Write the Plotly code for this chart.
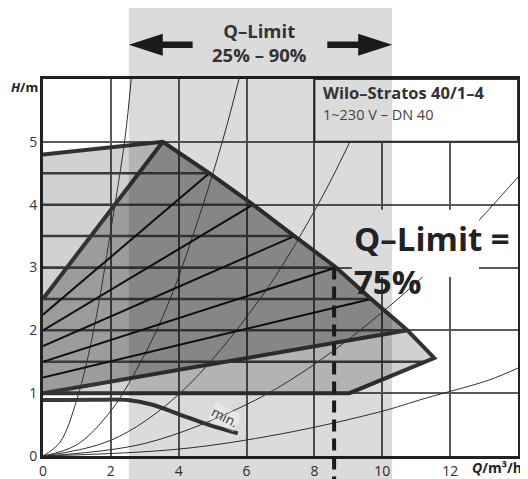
import plotly.graph_objects as go

# --- data --------------------------------------------------------------
# outer envelope (max speed), from y-axis round the right tip back to H=1
env_q = [0, 3.53, 4.9, 6.19, 7.41, 8.64, 9.67, 10.74, 11.53, 9.03, 0]
env_h = [4.8, 5.0, 4.5, 4.0, 3.5, 3.0, 2.5, 2.0, 1.56, 1.0, 1.0]

# dp-v region (darker): y-axis 1.0..2.5, up to the peak, down the max curve
dpv_q = [0, 0, 3.53, 4.9, 6.19, 7.41, 8.64, 9.67, 10.74, 0]
dpv_h = [1.0, 2.5, 5.0, 4.5, 4.0, 3.5, 3.0, 2.5, 2.0, 1.0]

# dp-v set-point lines: start head at Q=0 and end point on the max curve
dpv_start = [2.25, 2.0, 1.75, 1.5, 1.25]
dpv_end_q = [4.9, 6.19, 7.41, 8.64, 9.67]
dpv_end_h = [4.5, 4.0, 3.5, 3.0, 2.5]

# dp-c set-point lines: head and where they meet the envelope
dpc_h = [1.5, 2.0, 2.5, 3.0, 3.5, 4.0, 4.5]
dpc_q = [11.3, 10.74, 9.67, 8.64, 7.41, 6.19, 4.9]

# min. speed curve
min_q = [0, 1.5, 2.5, 3.2, 4.03, 4.91, 5.74]
min_h = [0.89, 0.895, 0.89, 0.82, 0.66, 0.49, 0.36]

# system curves (thin parabolas through the origin)
sys_curves = [
    ([0, 0.5, 1.0, 1.5, 2.0, 2.41, 2.6], [0, 0.22, 0.9, 2.02, 3.6, 5.03, 6.0]),
    ([0, 1, 2, 3, 3.74, 4.5, 5.3, 5.8], [0, 0.18, 0.72, 1.62, 2.49, 3.64, 5.03, 6.05]),
    ([0, 2, 4, 6.38, 8.0, 9.0, 9.8], [0, 0.25, 0.98, 2.49, 3.9, 4.95, 5.9]),
    ([0, 3, 6, 8, 10.2, 12, 14.1], [0, 0.2, 0.82, 1.46, 2.38, 3.27, 4.5]),
    ([0, 4, 7, 9.91, 11.28, 13.15, 14], [0, 0.11, 0.35, 0.70, 0.92, 1.21, 1.40]),
]

q_ticks = [0, 2, 4, 6, 8, 10, 12, 14]
q_labels = ["0", "2", "4", "6", "8", "10", "12", ""]
h_ticks = [0, 1, 2, 3, 4, 5, 6]
h_labels = ["0", "1", "2", "3", "4", "5", ""]

q_band = (2.53, 10.29)      # Q-Limit 25% - 90%
q_limit = 8.58              # Q-Limit = 75%
q_limit_h = 3.0

Q_MAX, H_MAX = 14, 6
FONT = "Open Sans"
DARK = "#333333"
PAGE_PAD = 8                # browser's default body margin shifts the figure

fig = go.Figure()

# envelope fills (semi-transparent so the grid shows through)
fig.add_scatter(x=env_q, y=env_h, fill="toself", mode="none",
                fillcolor="rgba(0,0,0,0.18)", hoverinfo="skip")
fig.add_scatter(x=dpv_q, y=dpv_h, fill="toself", mode="none",
                fillcolor="rgba(0,0,0,0.25)", hoverinfo="skip")

for q, h in sys_curves:
    fig.add_scatter(x=q, y=h, mode="lines", line=dict(color=DARK, width=1, shape="spline"),
                    hoverinfo="skip")

# dp-c horizontals
xs, ys = [], []
for h, q in zip(dpc_h, dpc_q):
    xs += [0, q, None]
    ys += [h, h, None]
fig.add_scatter(x=xs, y=ys, mode="lines", line=dict(color="#3a3a3a", width=2.5),
                hoverinfo="skip")

# dp-v diagonals
xs, ys = [], []
for h0, q1, h1 in zip(dpv_start, dpv_end_q, dpv_end_h):
    xs += [0, q1, None]
    ys += [h0, h1, None]
fig.add_scatter(x=xs, y=ys, mode="lines", line=dict(color="#111111", width=2),
                hoverinfo="skip")

# thick outlines
fig.add_scatter(x=env_q, y=env_h, mode="lines", line=dict(color=DARK, width=4),
                hoverinfo="skip")
fig.add_scatter(x=[dpv_q[1], dpv_q[2]], y=[dpv_h[1], dpv_h[2]], mode="lines",
                line=dict(color=DARK, width=4), hoverinfo="skip")
fig.add_scatter(x=[dpv_q[0], dpv_q[8]], y=[dpv_h[0], dpv_h[8]], mode="lines",
                line=dict(color=DARK, width=4), hoverinfo="skip")
fig.add_scatter(x=min_q, y=min_h, mode="lines",
                line=dict(color="#3a3a3a", width=4, shape="spline"), hoverinfo="skip")

# white boxes (title block + behind the big label), then the grey band on top
fig.add_shape(type="rect", x0=8, x1=Q_MAX, y0=5, y1=H_MAX, layer="above",
              fillcolor="white", line=dict(color=DARK, width=2))
fig.add_shape(type="rect", x0=9.1, x1=12.85, y0=2.85, y1=3.92, layer="above",
              fillcolor="white", line=dict(width=0))
fig.add_shape(type="rect", xref="x", yref="paper", x0=q_band[0], x1=q_band[1],
              y0=-0.07, y1=1.19, layer="above", fillcolor="rgba(0,0,0,0.14)",
              line=dict(width=0))
fig.add_shape(type="line", xref="x", yref="paper", x0=q_limit, x1=q_limit,
              y0=q_limit_h / H_MAX, y1=-0.07, layer="above",
              line=dict(color="#1a1a1a", width=4, dash="12px,7px"))

# arrows above the plot
ay, head_h, shaft_h, head_l = 1.091, 0.029, 0.0088, 1.0
l_tip, l_end = q_band[0], 4.41
r_tip, r_start = q_band[1], 8.38
left = (f"M{l_tip},{ay} L{l_tip + head_l},{ay + head_h} L{l_tip + head_l},{ay + shaft_h} "
        f"L{l_end},{ay + shaft_h} L{l_end},{ay - shaft_h} L{l_tip + head_l},{ay - shaft_h} "
        f"L{l_tip + head_l},{ay - head_h} Z")
right = (f"M{r_tip},{ay} L{r_tip - head_l},{ay + head_h} L{r_tip - head_l},{ay + shaft_h} "
         f"L{r_start},{ay + shaft_h} L{r_start},{ay - shaft_h} L{r_tip - head_l},{ay - shaft_h} "
         f"L{r_tip - head_l},{ay - head_h} Z")
for p in (left, right):
    fig.add_shape(type="path", xref="x", yref="paper", path=p, layer="above",
                  fillcolor="#1a1a1a", line=dict(width=0))


def label(text, x, y, size, color=DARK, **kw):
    kw.setdefault("yanchor", "middle")
    fig.add_annotation(x=x, y=y, text=text, showarrow=False,
                       font=dict(family=FONT, color=color, size=size), **kw)


label("<b>Q–Limit<br>25% – 90%</b>", 6.37, 1.098, 18.5, xref="x", yref="paper")
label("<b>Q–Limit =<br>75%</b>", 9.1, 3.12, 33, color="#222222",
      xanchor="left", align="left")
label("<b>Wilo–Stratos 40/1–4</b>", 8.2, 5.79, 16.5, xanchor="left")
label("1~230 V – DN 40", 8.2, 5.43, 14.5, color="#444444", xanchor="left")
label("min.", 5.35, 0.62, 13.5, color="#3a3a3a", textangle=27,
      bgcolor="rgba(255,255,255,0.35)", borderpad=0)
label("<b><i>H</i>/m</b>", -0.006, 5.87, 13, color="#222222", xref="paper", xanchor="right")
label("<b><i>Q</i>/m³/h</b>", 1.012, -0.03, 14, color="#222222",
      xref="paper", yref="paper", xanchor="right")

axis = dict(showgrid=True, gridcolor="#5a5a5a", gridwidth=1.5, zeroline=False,
            showline=True, mirror=True, linecolor="#222222", linewidth=3, ticks="",
            tickfont=dict(family=FONT, size=14, color=DARK), fixedrange=True,
            automargin=False)
fig.update_xaxes(range=[0, Q_MAX], tickvals=q_ticks, ticktext=q_labels,
                 ticklabelstandoff=0, **axis)
fig.update_yaxes(range=[0, H_MAX], tickvals=h_ticks, ticktext=h_labels,
                 ticklabelstandoff=0, **axis)
fig.update_layout(width=528, height=479,
                  margin=dict(l=43 - PAGE_PAD, r=10 + PAGE_PAD,
                              t=79 - PAGE_PAD, b=23 + PAGE_PAD),
                  showlegend=False, plot_bgcolor="white", paper_bgcolor="white",
                  font=dict(family=FONT))

fig.write_html("out.html")
